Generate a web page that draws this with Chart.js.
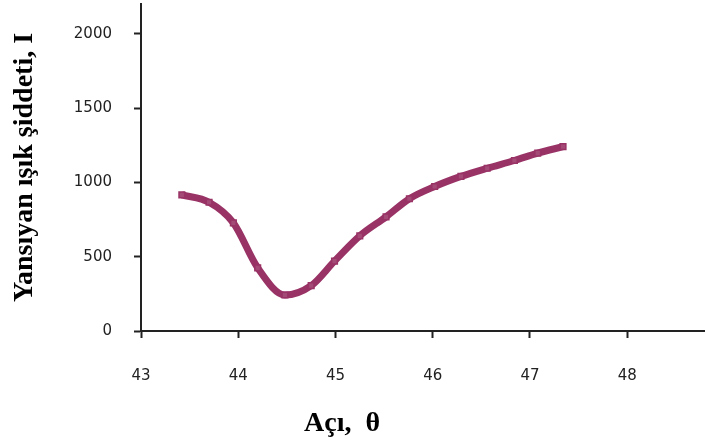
<!DOCTYPE html>
<html>
<head>
<meta charset="utf-8">
<script src="https://cdn.jsdelivr.net/npm/chart.js@4/dist/chart.umd.min.js"></script>
<style>
  html, body { margin: 0; padding: 0; background: #fff; }
  #wrap { width: 705px; height: 446px; }
</style>
</head>
<body>
<div id="wrap"><canvas id="grafico" width="705" height="446"></canvas></div>
<script>
// Datos
const angulos = [43.42, 43.70, 43.95, 44.20, 44.48, 44.75, 44.99, 45.25, 45.52, 45.76, 46.02, 46.29, 46.56, 46.84, 47.08, 47.34];
const intensidad = [916, 866, 727, 425, 242, 305, 470, 640, 768, 890, 972, 1040, 1095, 1147, 1197, 1240];
const ticksX = [43, 44, 45, 46, 47, 48];
const ticksY = [0, 500, 1000, 1500, 2000];
const tituloY = 'Yansıyan ışık şiddeti, I';
const tituloX = 'Açı,  θ';

const colorLinea = '#993366';
const fuenteTicks = { family: 'DejaVu Sans', size: 15 };
const fuenteTitulo = { family: 'Liberation Serif', size: 28, weight: 'bold' };

// título del eje X (no va centrado en el área del gráfico)
const tituloXPlugin = {
    id: 'tituloX',
    afterDraw(chart) {
        const ctx = chart.ctx;
        ctx.save();
        ctx.font = `bold ${fuenteTitulo.size}px "${fuenteTitulo.family}"`;
        ctx.fillStyle = '#000';
        ctx.textAlign = 'center';
        ctx.textBaseline = 'alphabetic';
        ctx.fillText(tituloX, 342, 431);
        ctx.restore();
    }
};

new Chart(document.getElementById('grafico'), {
    type: 'line',
    data: {
        datasets: [{
            data: angulos.map((a, i) => ({ x: a, y: intensidad[i] })),
            borderColor: colorLinea,
            borderWidth: 7,
            cubicInterpolationMode: 'monotone',
            pointStyle: 'rect',
            pointRadius: 4,
            pointBorderWidth: 1.5,
            pointBorderColor: colorLinea,
            pointBackgroundColor: '#a44a76',
            fill: false
        }]
    },
    plugins: [tituloXPlugin],
    options: {
        responsive: false,
        animation: false,
        layout: { autoPadding: false, padding: { top: 4, right: 0, left: 0, bottom: 0 } },
        plugins: { legend: { display: false }, tooltip: { enabled: false } },
        scales: {
            x: {
                type: 'linear',
                min: 43,
                max: 48.8,
                afterBuildTicks: s => { s.ticks = ticksX.map(v => ({ value: v })); },
                afterFit: s => { s.height = 115; s.paddingLeft = 0; s.paddingRight = 0; },
                border: { color: '#222', width: 2 },
                grid: { drawOnChartArea: false, tickLength: 7, tickColor: '#222', tickWidth: 2 },
                ticks: { font: fuenteTicks, color: '#222', padding: 29, maxRotation: 0, callback: v => String(v) }
            },
            y: {
                min: 0,
                max: 2200,
                afterBuildTicks: s => { s.ticks = ticksY.map(v => ({ value: v })); },
                afterFit: s => { s.width = 141; s.paddingTop = 0; s.paddingBottom = 0; },
                border: { color: '#222', width: 2 },
                grid: { drawOnChartArea: false, tickLength: 7, tickColor: '#222', tickWidth: 2 },
                ticks: { font: fuenteTicks, color: '#222', padding: 22, callback: v => String(v) },
                title: { display: true, text: tituloY, font: fuenteTitulo, color: '#000', padding: { top: 8, bottom: 0 } }
            }
        }
    }
});
</script>
</body>
</html>
